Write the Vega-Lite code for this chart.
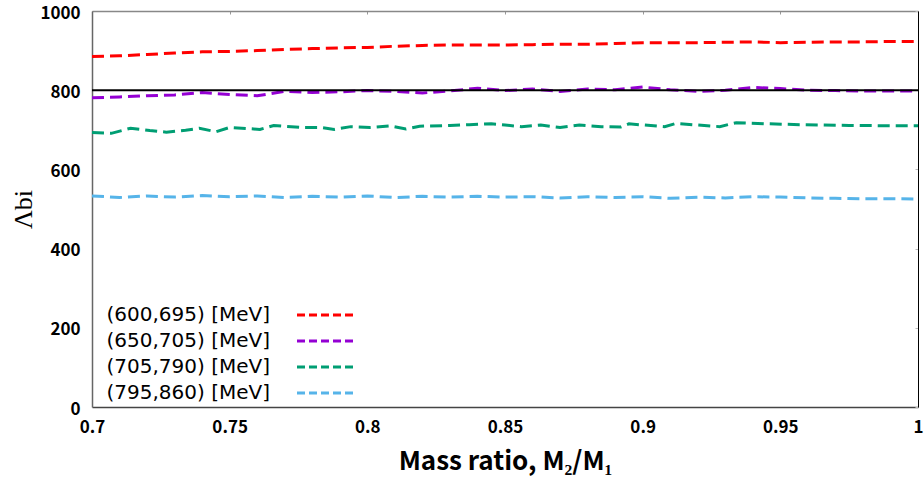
{
  "$schema": "https://vega.github.io/schema/vega-lite/v6.json",
  "width": 826,
  "height": 396,
  "autosize": {"type": "none"},
  "padding": {"left": 92, "top": 11, "right": 6, "bottom": 72},
  "background": "white",
  "config": {
    "view": {"stroke": null},
    "font": "Noto Sans CJK JP"
  },
  "datasets": {
    "curves": [
      {"s": "(600,695) [MeV]", "x": 0.70, "y": 885}, {"s": "(600,695) [MeV]", "x": 0.71, "y": 887}, {"s": "(600,695) [MeV]", "x": 0.72, "y": 890}, {"s": "(600,695) [MeV]", "x": 0.73, "y": 894}, {"s": "(600,695) [MeV]", "x": 0.74, "y": 897}, {"s": "(600,695) [MeV]", "x": 0.75, "y": 898}, {"s": "(600,695) [MeV]", "x": 0.76, "y": 900}, {"s": "(600,695) [MeV]", "x": 0.77, "y": 903}, {"s": "(600,695) [MeV]", "x": 0.78, "y": 905}, {"s": "(600,695) [MeV]", "x": 0.79, "y": 907}, {"s": "(600,695) [MeV]", "x": 0.80, "y": 908}, {"s": "(600,695) [MeV]", "x": 0.81, "y": 911}, {"s": "(600,695) [MeV]", "x": 0.82, "y": 913}, {"s": "(600,695) [MeV]", "x": 0.83, "y": 914}, {"s": "(600,695) [MeV]", "x": 0.84, "y": 914}, {"s": "(600,695) [MeV]", "x": 0.85, "y": 914}, {"s": "(600,695) [MeV]", "x": 0.86, "y": 915}, {"s": "(600,695) [MeV]", "x": 0.87, "y": 916}, {"s": "(600,695) [MeV]", "x": 0.88, "y": 916}, {"s": "(600,695) [MeV]", "x": 0.89, "y": 918}, {"s": "(600,695) [MeV]", "x": 0.90, "y": 920}, {"s": "(600,695) [MeV]", "x": 0.91, "y": 920}, {"s": "(600,695) [MeV]", "x": 0.92, "y": 920}, {"s": "(600,695) [MeV]", "x": 0.93, "y": 921}, {"s": "(600,695) [MeV]", "x": 0.94, "y": 922}, {"s": "(600,695) [MeV]", "x": 0.95, "y": 920}, {"s": "(600,695) [MeV]", "x": 0.96, "y": 921}, {"s": "(600,695) [MeV]", "x": 0.97, "y": 922}, {"s": "(600,695) [MeV]", "x": 0.98, "y": 922}, {"s": "(600,695) [MeV]", "x": 0.99, "y": 923}, {"s": "(600,695) [MeV]", "x": 1.00, "y": 923},

      {"s": "(650,705) [MeV]", "x": 0.70, "y": 781}, {"s": "(650,705) [MeV]", "x": 0.71, "y": 783}, {"s": "(650,705) [MeV]", "x": 0.72, "y": 786}, {"s": "(650,705) [MeV]", "x": 0.73, "y": 788}, {"s": "(650,705) [MeV]", "x": 0.74, "y": 794}, {"s": "(650,705) [MeV]", "x": 0.75, "y": 789}, {"s": "(650,705) [MeV]", "x": 0.76, "y": 786}, {"s": "(650,705) [MeV]", "x": 0.77, "y": 797}, {"s": "(650,705) [MeV]", "x": 0.78, "y": 794}, {"s": "(650,705) [MeV]", "x": 0.79, "y": 796}, {"s": "(650,705) [MeV]", "x": 0.80, "y": 799}, {"s": "(650,705) [MeV]", "x": 0.81, "y": 797}, {"s": "(650,705) [MeV]", "x": 0.82, "y": 793}, {"s": "(650,705) [MeV]", "x": 0.83, "y": 798}, {"s": "(650,705) [MeV]", "x": 0.84, "y": 805}, {"s": "(650,705) [MeV]", "x": 0.85, "y": 799}, {"s": "(650,705) [MeV]", "x": 0.86, "y": 803}, {"s": "(650,705) [MeV]", "x": 0.87, "y": 797}, {"s": "(650,705) [MeV]", "x": 0.88, "y": 803}, {"s": "(650,705) [MeV]", "x": 0.89, "y": 801}, {"s": "(650,705) [MeV]", "x": 0.90, "y": 808}, {"s": "(650,705) [MeV]", "x": 0.91, "y": 801}, {"s": "(650,705) [MeV]", "x": 0.92, "y": 797}, {"s": "(650,705) [MeV]", "x": 0.93, "y": 800}, {"s": "(650,705) [MeV]", "x": 0.94, "y": 807}, {"s": "(650,705) [MeV]", "x": 0.95, "y": 804}, {"s": "(650,705) [MeV]", "x": 0.96, "y": 800}, {"s": "(650,705) [MeV]", "x": 0.97, "y": 799}, {"s": "(650,705) [MeV]", "x": 0.98, "y": 798}, {"s": "(650,705) [MeV]", "x": 0.99, "y": 798}, {"s": "(650,705) [MeV]", "x": 1.00, "y": 798},

      {"s": "(705,790) [MeV]", "x": 0.700, "y": 693}, {"s": "(705,790) [MeV]", "x": 0.707, "y": 691}, {"s": "(705,790) [MeV]", "x": 0.714, "y": 704}, {"s": "(705,790) [MeV]", "x": 0.721, "y": 698}, {"s": "(705,790) [MeV]", "x": 0.727, "y": 694}, {"s": "(705,790) [MeV]", "x": 0.734, "y": 699}, {"s": "(705,790) [MeV]", "x": 0.739, "y": 704}, {"s": "(705,790) [MeV]", "x": 0.745, "y": 695}, {"s": "(705,790) [MeV]", "x": 0.750, "y": 706}, {"s": "(705,790) [MeV]", "x": 0.761, "y": 701}, {"s": "(705,790) [MeV]", "x": 0.766, "y": 711}, {"s": "(705,790) [MeV]", "x": 0.776, "y": 706}, {"s": "(705,790) [MeV]", "x": 0.783, "y": 706}, {"s": "(705,790) [MeV]", "x": 0.788, "y": 701}, {"s": "(705,790) [MeV]", "x": 0.794, "y": 708}, {"s": "(705,790) [MeV]", "x": 0.801, "y": 706}, {"s": "(705,790) [MeV]", "x": 0.808, "y": 710}, {"s": "(705,790) [MeV]", "x": 0.814, "y": 702}, {"s": "(705,790) [MeV]", "x": 0.819, "y": 709}, {"s": "(705,790) [MeV]", "x": 0.830, "y": 711}, {"s": "(705,790) [MeV]", "x": 0.837, "y": 713}, {"s": "(705,790) [MeV]", "x": 0.845, "y": 715}, {"s": "(705,790) [MeV]", "x": 0.850, "y": 712}, {"s": "(705,790) [MeV]", "x": 0.856, "y": 708}, {"s": "(705,790) [MeV]", "x": 0.863, "y": 712}, {"s": "(705,790) [MeV]", "x": 0.870, "y": 706}, {"s": "(705,790) [MeV]", "x": 0.877, "y": 712}, {"s": "(705,790) [MeV]", "x": 0.885, "y": 708}, {"s": "(705,790) [MeV]", "x": 0.892, "y": 707}, {"s": "(705,790) [MeV]", "x": 0.895, "y": 715}, {"s": "(705,790) [MeV]", "x": 0.908, "y": 708}, {"s": "(705,790) [MeV]", "x": 0.912, "y": 716}, {"s": "(705,790) [MeV]", "x": 0.928, "y": 708}, {"s": "(705,790) [MeV]", "x": 0.934, "y": 718}, {"s": "(705,790) [MeV]", "x": 0.946, "y": 715}, {"s": "(705,790) [MeV]", "x": 0.957, "y": 713}, {"s": "(705,790) [MeV]", "x": 0.975, "y": 711}, {"s": "(705,790) [MeV]", "x": 0.994, "y": 710}, {"s": "(705,790) [MeV]", "x": 1.000, "y": 710},

      {"s": "(795,860) [MeV]", "x": 0.70, "y": 533}, {"s": "(795,860) [MeV]", "x": 0.71, "y": 529}, {"s": "(795,860) [MeV]", "x": 0.72, "y": 533}, {"s": "(795,860) [MeV]", "x": 0.73, "y": 530}, {"s": "(795,860) [MeV]", "x": 0.74, "y": 534}, {"s": "(795,860) [MeV]", "x": 0.75, "y": 531}, {"s": "(795,860) [MeV]", "x": 0.76, "y": 533}, {"s": "(795,860) [MeV]", "x": 0.77, "y": 529}, {"s": "(795,860) [MeV]", "x": 0.78, "y": 532}, {"s": "(795,860) [MeV]", "x": 0.79, "y": 530}, {"s": "(795,860) [MeV]", "x": 0.80, "y": 533}, {"s": "(795,860) [MeV]", "x": 0.81, "y": 529}, {"s": "(795,860) [MeV]", "x": 0.82, "y": 532}, {"s": "(795,860) [MeV]", "x": 0.83, "y": 530}, {"s": "(795,860) [MeV]", "x": 0.84, "y": 532}, {"s": "(795,860) [MeV]", "x": 0.85, "y": 530}, {"s": "(795,860) [MeV]", "x": 0.86, "y": 531}, {"s": "(795,860) [MeV]", "x": 0.87, "y": 528}, {"s": "(795,860) [MeV]", "x": 0.88, "y": 531}, {"s": "(795,860) [MeV]", "x": 0.89, "y": 529}, {"s": "(795,860) [MeV]", "x": 0.90, "y": 531}, {"s": "(795,860) [MeV]", "x": 0.91, "y": 527}, {"s": "(795,860) [MeV]", "x": 0.92, "y": 530}, {"s": "(795,860) [MeV]", "x": 0.93, "y": 528}, {"s": "(795,860) [MeV]", "x": 0.94, "y": 531}, {"s": "(795,860) [MeV]", "x": 0.95, "y": 530}, {"s": "(795,860) [MeV]", "x": 0.96, "y": 528}, {"s": "(795,860) [MeV]", "x": 0.97, "y": 527}, {"s": "(795,860) [MeV]", "x": 0.98, "y": 526}, {"s": "(795,860) [MeV]", "x": 0.99, "y": 526}, {"s": "(795,860) [MeV]", "x": 1.00, "y": 525}
    ],
    "ref": [{"x0": 0.7, "x1": 1.0, "y": 800}]
  },
  "resolve": {"axis": {"x": "independent", "y": "independent"}},
  "layer": [
    {
      "data": {"name": "curves"},
      "mark": {"type": "line", "strokeWidth": 3, "strokeDash": [12, 6], "clip": false},
      "encoding": {
        "x": {
          "field": "x", "type": "quantitative",
          "scale": {"domain": [0.7, 1.0], "nice": false, "zero": false},
          "axis": {
            "orient": "bottom",
            "values": [0.7, 0.75, 0.8, 0.85, 0.9, 0.95, 1.0],
            "format": "~g",
            "grid": false,
            "ticks": false,
            "domainColor": "#444",
            "domainWidth": 1.5,
            "labelFontSize": 17,
            "labelFontWeight": "bold",
            "labelColor": "black",
            "labelPadding": 12,
            "labelFlush": false,
            "title": "Mass ratio, M₂/M₁",
            "titleFontSize": 26,
            "titleFontWeight": "bold",
            "titleColor": "black",
            "titlePadding": 13
          }
        },
        "y": {
          "field": "y", "type": "quantitative",
          "scale": {"domain": [0, 1000], "nice": false},
          "axis": {
            "orient": "left",
            "values": [0, 200, 400, 600, 800, 1000],
            "format": "d",
            "grid": false,
            "ticks": false,
            "domainColor": "#666",
            "domainWidth": 1.5,
            "labelFontSize": 17,
            "labelFontWeight": "bold",
            "labelColor": "black",
            "labelPadding": 12,
            "labelOffset": 2,
            "labelFlush": false,
            "title": "Λbi",
            "titleFont": "Liberation Serif",
            "titleFontSize": 26,
            "titleFontWeight": "normal",
            "titleColor": "black",
            "titlePadding": 3
          }
        },
        "color": {
          "field": "s", "type": "nominal",
          "scale": {
            "domain": ["(600,695) [MeV]", "(650,705) [MeV]", "(705,790) [MeV]", "(795,860) [MeV]"],
            "range": ["#ff0000", "#9400d3", "#009e73", "#56b4e9"]
          },
          "legend": {
            "title": null,
            "orient": "none",
            "legendX": 224,
            "legendY": 294,
            "padding": 0,
            "symbolType": "M-5.8,0H5.8",
            "symbolSize": 100,
            "symbolStrokeWidth": 3,
            "symbolDash": [8, 4],
            "labelAlign": "right",
            "labelOffset": -66,
            "labelFont": "DejaVu Sans",
            "labelFontSize": 20,
            "labelColor": "black",
            "labelLimit": 400,
            "rowPadding": 6,
            "encode": {
              "symbols": {
                "update": {
                  "stroke": {"signal": "datum.value === '(650,705) [MeV]' ? '#7030a0' : datum.value === '(705,790) [MeV]' ? '#00b050' : datum.value === '(795,860) [MeV]' ? '#00b0f0' : '#ff0000'"}
                }
              }
            }
          }
        }
      }
    },
    {
      "data": {"name": "ref"},
      "mark": {"type": "rule", "color": "black", "strokeWidth": 2},
      "encoding": {
        "x": {
          "field": "x0", "type": "quantitative",
          "axis": {
            "orient": "top",
            "values": [0.7, 0.75, 0.8, 0.85, 0.9, 0.95, 1.0],
            "labels": false,
            "grid": false,
            "ticks": true,
            "tickSize": -3,
            "tickColor": "#999",
            "domainColor": "#888",
            "domainWidth": 1.5,
            "title": null
          }
        },
        "x2": {"field": "x1"},
        "y": {
          "field": "y", "type": "quantitative",
          "axis": {
            "orient": "right",
            "values": [0, 200, 400, 600, 800, 1000],
            "labels": false,
            "grid": false,
            "ticks": true,
            "tickSize": -3,
            "tickColor": "#bbb",
            "domainColor": "black",
            "domainWidth": 1,
            "title": null
          }
        }
      }
    }
  ]
}
